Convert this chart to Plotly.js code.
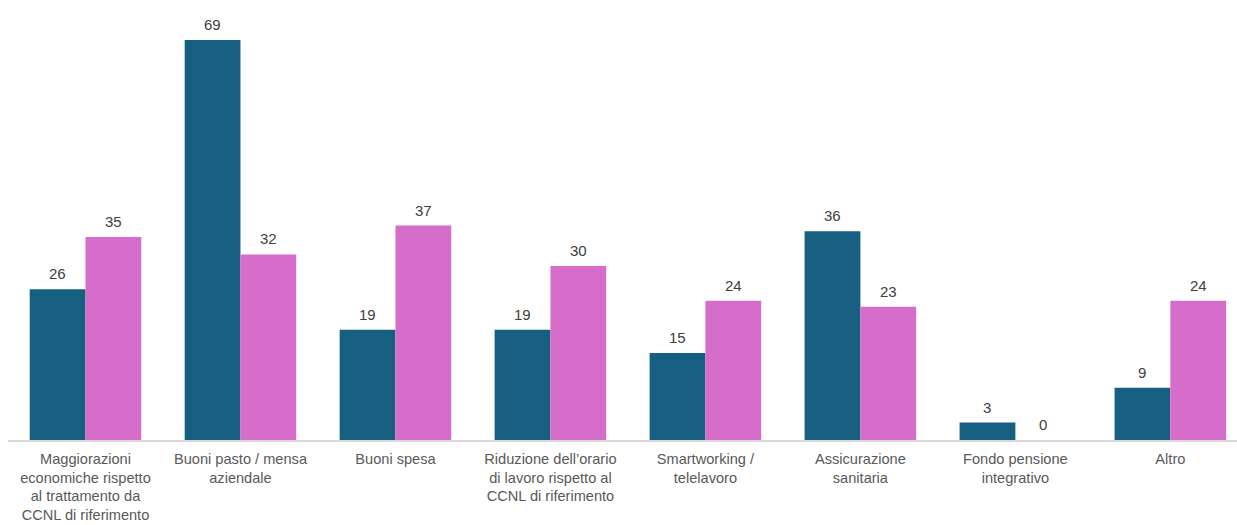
<!DOCTYPE html>
<html><head><meta charset="utf-8">
<script src="https://cdn.plot.ly/plotly-3.0.1.min.js"></script>
<style>html,body{margin:0;padding:0;background:#fff}</style>
</head><body><div id="chart" style="width:1237px;height:525px"></div>
<script>
const categories = [
  "Maggiorazioni<br>economiche rispetto<br>al trattamento da<br>CCNL di riferimento",
  "Buoni pasto / mensa<br>aziendale",
  "Buoni spesa",
  "Riduzione dell’orario<br>di lavoro rispetto al<br>CCNL di riferimento",
  "Smartworking /<br>telelavoro",
  "Assicurazione<br>sanitaria",
  "Fondo pensione<br>integrativo",
  "Altro"
];
const series1 = [26, 69, 19, 19, 15, 36, 3, 9];
const series2 = [35, 32, 37, 30, 24, 23, 0, 24];
const xIdx = categories.map((_, i) => i);

const BARGAP = 0.28;
const half = (1 - BARGAP) / 4; // centre offset of each bar in a group of two

const common = {type:'bar', hoverinfo:'none'};
const data = [
  Object.assign({x:xIdx, y:series1, marker:{color:'#175f80'}, name:'A'}, common),
  Object.assign({x:xIdx, y:series2, marker:{color:'#d66dca'}, name:'B'}, common)
];
const labelFont = {family:'Liberation Sans, Arial, sans-serif', size:15, color:'#404040'};
const annotations = [];
[[series1, -half], [series2, half]].forEach(([vals, off]) => {
  vals.forEach((v, i) => annotations.push({
    x: i + off, y: v, xref:'x', yref:'y', text:String(v), showarrow:false,
    yanchor:'bottom', yshift:5, font:labelFont
  }));
});
const layout = {
  width:1237, height:525,
  margin:{l:8, r:0, t:40, b:85},
  barmode:'group', bargap:BARGAP, bargroupgap:0,
  showlegend:false,
  paper_bgcolor:'#fff', plot_bgcolor:'#fff',
  font:{family:'Liberation Sans, Arial, sans-serif', size:14.6, color:'#595959'},
  annotations: annotations,
  xaxis:{range:[-0.5, 7.43], tickmode:'array', tickvals:xIdx, ticktext:categories,
    showline:true, linecolor:'#d9d9d9', linewidth:2, showgrid:false, zeroline:false, ticks:'',
    ticklabelstandoff:4,
    tickfont:{size:14.6, color:'#595959'}, fixedrange:true},
  yaxis:{range:[0, 69], visible:false, showgrid:false, zeroline:false, fixedrange:true}
};
Plotly.newPlot('chart', data, layout, {displayModeBar:false, staticPlot:true});
</script></body></html>
